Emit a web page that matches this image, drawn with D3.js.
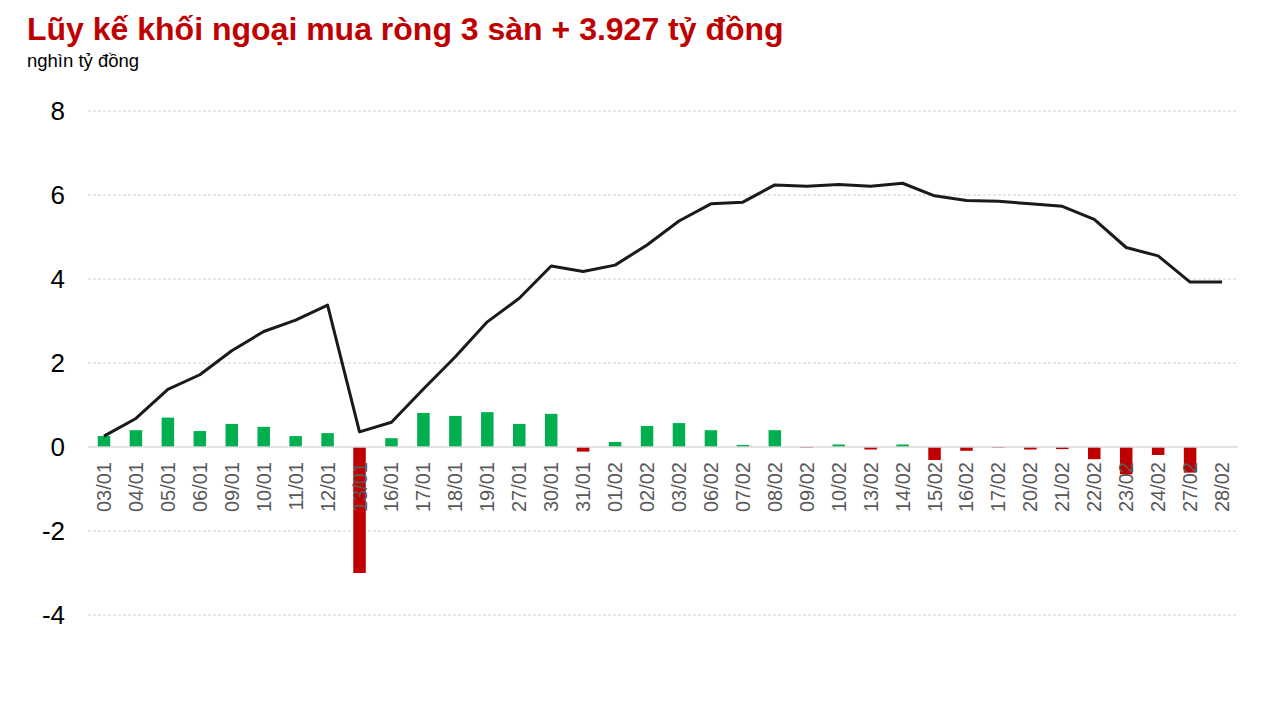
<!DOCTYPE html>
<html><head><meta charset="utf-8">
<script src="https://cdn.jsdelivr.net/npm/d3@7"></script>
<style>body{margin:0;background:#fff;}svg{display:block;font-family:"Liberation Sans",Arial,sans-serif;}</style>
</head><body><div id="chart"></div>
<script>
const categories = ["03/01","04/01","05/01","06/01","09/01","10/01","11/01","12/01","13/01","16/01","17/01","18/01","19/01","27/01","30/01","31/01","01/02","02/02","03/02","06/02","07/02","08/02","09/02","10/02","13/02","14/02","15/02","16/02","17/02","20/02","21/02","22/02","23/02","24/02","27/02","28/02"];
const dailyValues = [0.26,0.40,0.70,0.38,0.55,0.48,0.26,0.33,-3.00,0.21,0.81,0.74,0.83,0.55,0.79,-0.11,0.12,0.50,0.57,0.40,0.05,0.40,-0.02,0.06,-0.06,0.06,-0.31,-0.09,-0.02,-0.06,-0.05,-0.29,-0.65,-0.19,-0.61,0.00];
const cumulativeValues = [0.26,0.68,1.37,1.72,2.29,2.75,3.02,3.38,0.36,0.59,1.38,2.15,2.98,3.54,4.31,4.18,4.33,4.81,5.38,5.79,5.83,6.24,6.21,6.25,6.21,6.28,5.98,5.87,5.85,5.79,5.73,5.42,4.75,4.55,3.927,3.927];
const yTicks = [-4,-2,0,2,4,6,8];
const titleText = "Lũy kế khối ngoại mua ròng 3 sàn + 3.927 tỷ đồng";
const unitText = "nghìn tỷ đồng";

const W = 1276, H = 717;
const svg = d3.select("#chart").append("svg").attr("width", W).attr("height", H);

const x = d3.scaleBand().domain(categories).range([88, 1238]).padding(0);
const y = d3.scaleLinear().domain([-4, 8]).range([615, 111]);
const barW = 12.5;

// gridlines
svg.append("g").selectAll("line").data(yTicks.filter(d => d !== 0)).join("line")
  .attr("x1", 88).attr("x2", 1238)
  .attr("y1", d => y(d)).attr("y2", d => y(d))
  .attr("stroke", "#d0d0d0").attr("stroke-width", 1).attr("stroke-dasharray", "3,2");

// y axis labels
svg.append("g").selectAll("text").data(yTicks).join("text")
  .attr("x", 65).attr("y", d => y(d)).attr("dy", "0.35em")
  .attr("text-anchor", "end").attr("font-size", 26).attr("fill", "#000")
  .text(d => d);

// bars
svg.append("g").selectAll("rect").data(categories).join("rect")
  .attr("x", (c) => x(c) + x.bandwidth()/2 - barW/2)
  .attr("width", barW)
  .attr("y", (c, i) => y(Math.max(0, dailyValues[i])))
  .attr("height", (c, i) => Math.abs(y(dailyValues[i]) - y(0)))
  .attr("fill", (c, i) => dailyValues[i] >= 0 ? "#00b050" : "#c00000");

// zero line
svg.append("line").attr("x1", 88).attr("x2", 1238).attr("y1", y(0)).attr("y2", y(0))
  .attr("stroke", "#d9d9d9").attr("stroke-width", 1.5);

// x labels
svg.append("g").selectAll("text").data(categories).join("text")
  .attr("transform", c => `translate(${x(c) + x.bandwidth()/2 + 7},${y(0) + 15}) rotate(-90)`)
  .attr("text-anchor", "end").attr("font-size", 20).attr("fill", "#595959")
  .text(c => c);

// line
const line = d3.line().x((d, i) => x(categories[i]) + x.bandwidth()/2).y(d => y(d));
svg.append("path").datum(cumulativeValues).attr("d", line)
  .attr("fill", "none").attr("stroke", "#1a1a1a").attr("stroke-width", 3).attr("stroke-linejoin", "round");

// titles
svg.append("text").attr("x", 27).attr("y", 40).attr("font-size", 32).attr("font-weight", "bold")
  .attr("fill", "#c00000").text(titleText);
svg.append("text").attr("x", 27).attr("y", 67).attr("font-size", 18.5).attr("fill", "#000").text(unitText);
</script></body></html>
